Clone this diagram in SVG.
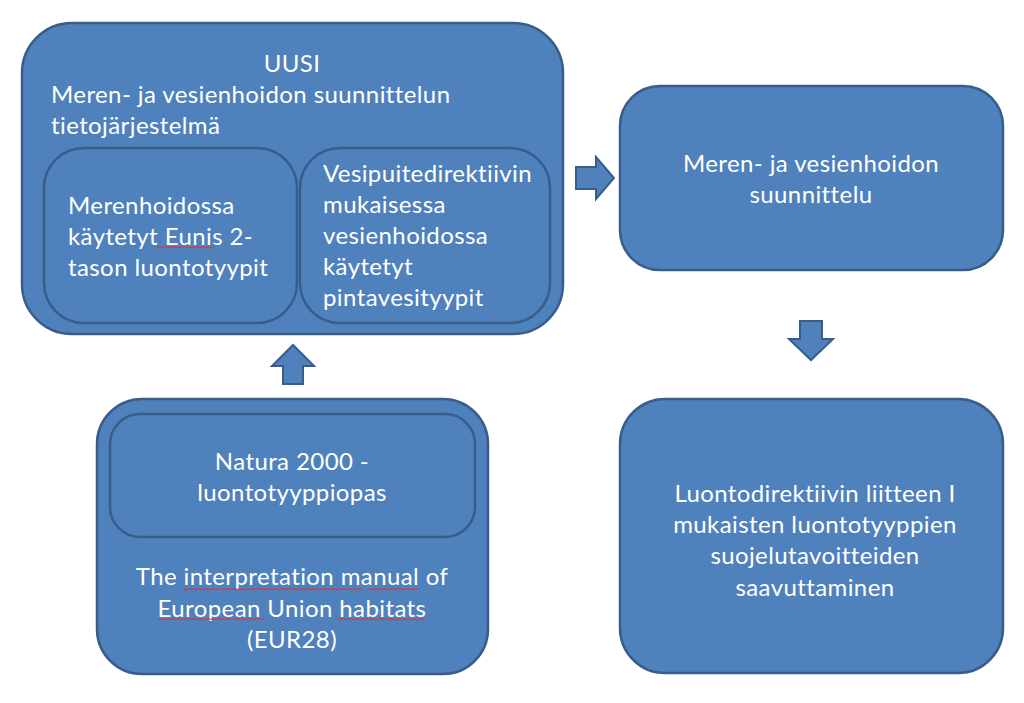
<svg xmlns="http://www.w3.org/2000/svg" width="1024" height="703" viewBox="0 0 1024 703">
<defs>
<style>
.box{fill:#4F81BD;stroke:#385D8A;stroke-width:2.5}
.arr{fill:#4F81BD;stroke:#385D8A;stroke-width:2;stroke-linejoin:miter}
text{font-family:Lato,"Open Sans","Liberation Sans",sans-serif;font-size:24px;letter-spacing:0.4px;fill:#FFFFFF}
.c{text-anchor:middle}
.sq{fill:url(#squig)}
</style>
<pattern id="squig" x="0" y="0" width="4" height="3" patternUnits="userSpaceOnUse">
<path d="M0,2 L1,0.5 L2,2 L3,0.5 L4,2" fill="none" stroke="#E03030" stroke-width="0.8"/>
</pattern>
</defs>
<rect width="1024" height="703" fill="#FFFFFF"/>

<g id="node-uusi">
<rect class="box" x="22" y="23" width="541" height="311" rx="50" ry="50"/>
<text class="c" x="292" y="72">UUSI</text>
<text x="51" y="103">Meren- ja vesienhoidon suunnittelun</text>
<text x="51" y="134">tietojärjestelmä</text>
</g>

<g id="node-eunis">
<rect class="box" x="44" y="148" width="253" height="175" rx="40" ry="40"/>
<text x="68" y="214">Merenhoidossa</text>
<text x="68" y="245">käytetyt Eunis 2-</text>
<text x="68" y="276">tason luontotyypit</text>
<rect class="sq" x="157" y="246" width="57" height="3"/>
</g>

<g id="node-vesipuite">
<rect class="box" x="300" y="148" width="250" height="175" rx="40" ry="40"/>
<text x="323" y="182">Vesipuitedirektiivin</text>
<text x="323" y="213">mukaisessa</text>
<text x="323" y="244">vesienhoidossa</text>
<text x="323" y="275">käytetyt</text>
<text x="323" y="306">pintavesityypit</text>
</g>

<g id="node-suunnittelu">
<rect class="box" x="620" y="86" width="383" height="184" rx="40" ry="40"/>
<text class="c" x="811" y="172">Meren- ja vesienhoidon</text>
<text class="c" x="811" y="203">suunnittelu</text>
</g>

<g id="node-natura">
<rect class="box" x="97" y="399" width="391" height="275" rx="45" ry="45"/>
<rect class="box" x="110" y="414" width="365" height="123" rx="30" ry="30"/>
<text class="c" x="292" y="470">Natura 2000 -</text>
<text class="c" x="292" y="501">luontotyyppiopas</text>
<text class="c" x="292" y="585">The interpretation manual of</text>
<text class="c" x="292" y="617">European Union habitats</text>
<text class="c" x="292" y="648">(EUR28)</text>
<rect class="sq" x="183" y="587" width="180" height="3"/>
<rect class="sq" x="369" y="587" width="49" height="3"/>
<rect class="sq" x="159" y="618" width="105" height="3"/>
<rect class="sq" x="337" y="618" width="88" height="3"/>
</g>

<g id="node-luontodirektiivi">
<rect class="box" x="620" y="399" width="383" height="274" rx="45" ry="45"/>
<text class="c" x="815" y="502">Luontodirektiivin liitteen I</text>
<text class="c" x="815" y="533">mukaisten luontotyyppien</text>
<text class="c" x="815" y="564">suojelutavoitteiden</text>
<text class="c" x="815" y="596">saavuttaminen</text>
</g>

<g id="connectors">
<path class="arr" d="M576,167 L596,167 L596,157 L614,178 L596,199 L596,189 L576,189 Z"/>
<path class="arr" d="M283,384 L283,366 L272,366 L293,345 L314,366 L303,366 L303,384 Z"/>
<path class="arr" d="M800,321 L822,321 L822,339 L833,339 L811,360 L789,339 L800,339 Z"/>
</g>
</svg>
